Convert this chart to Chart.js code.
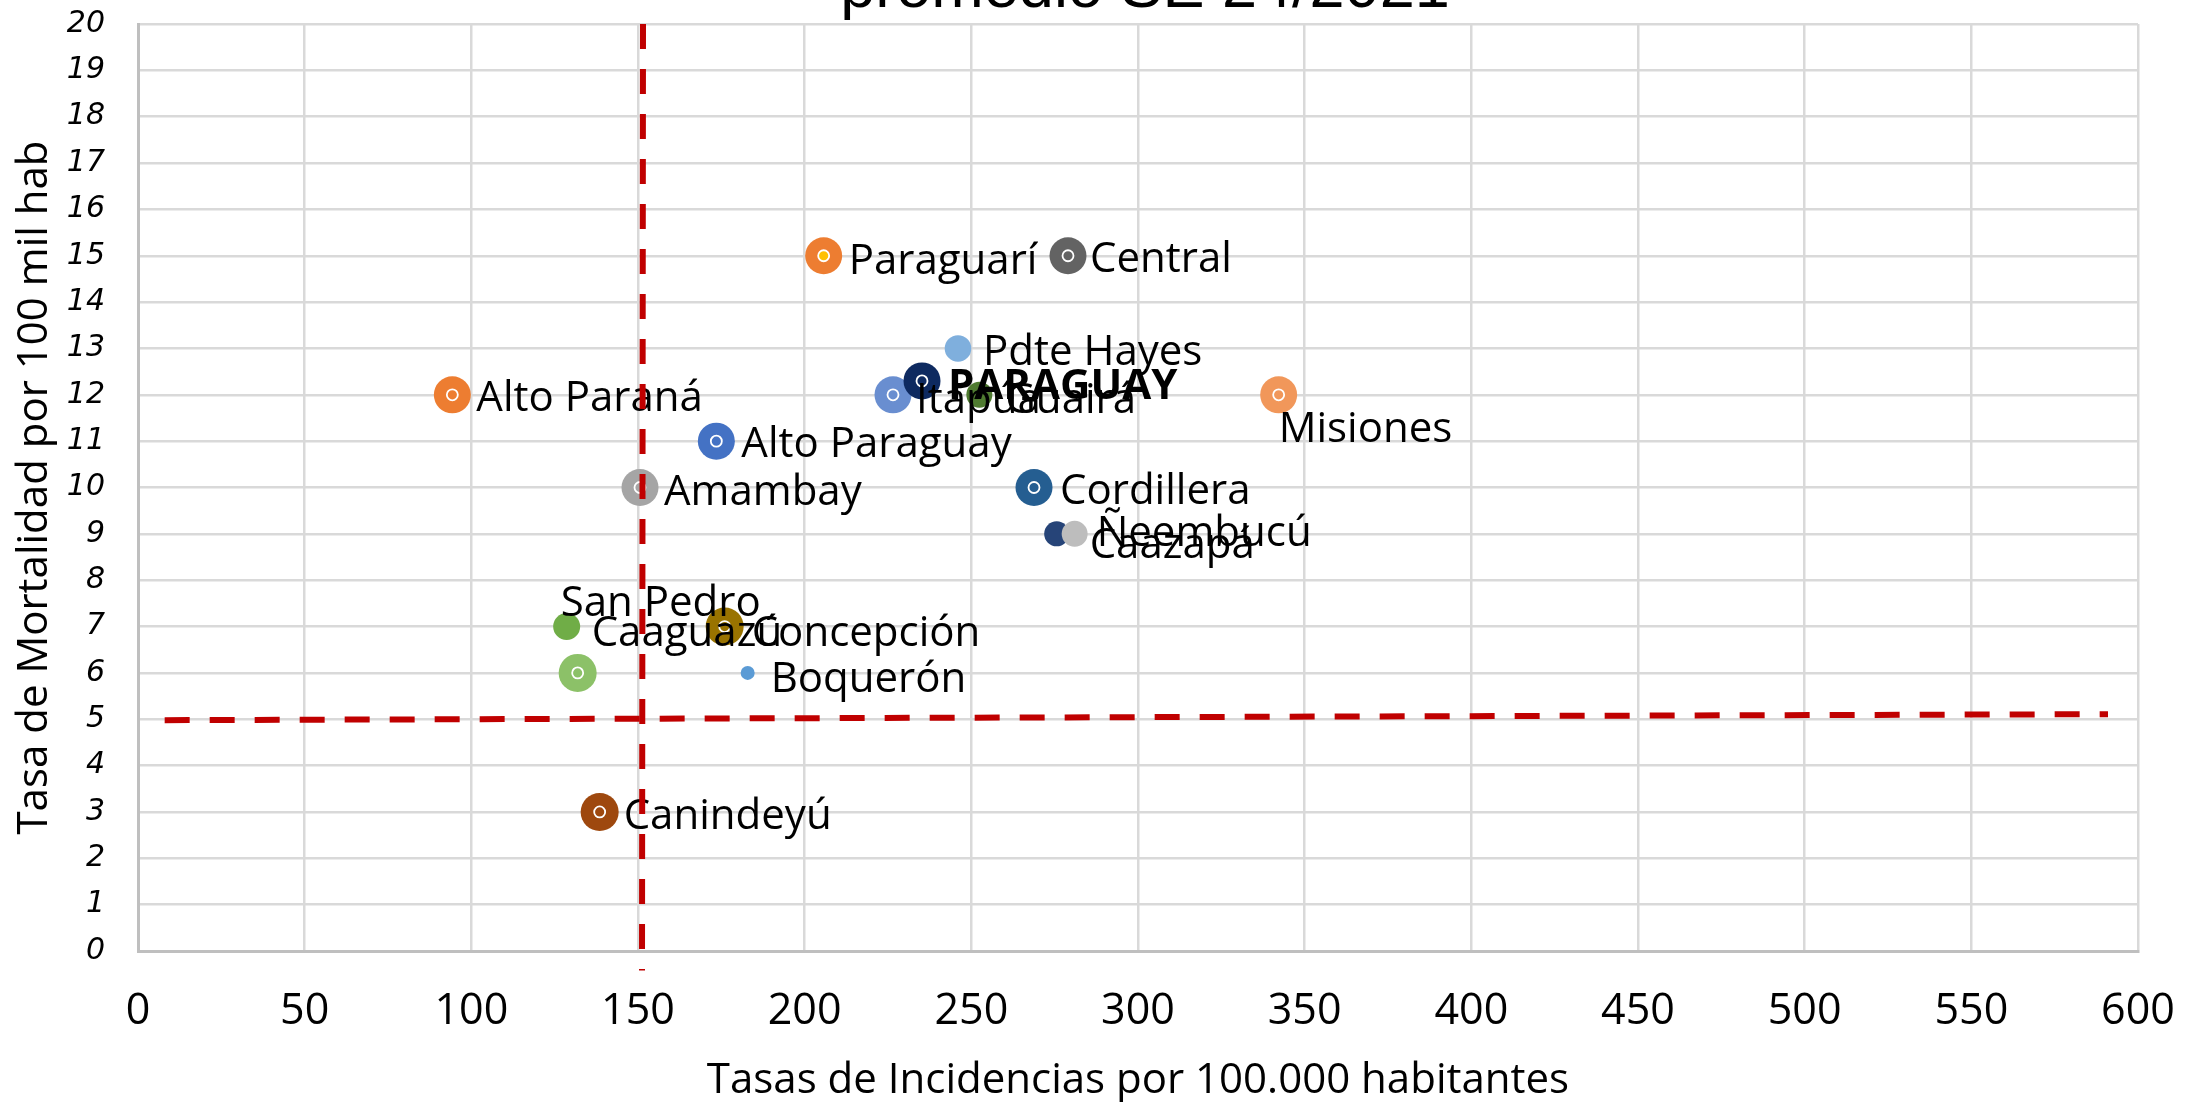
<!DOCTYPE html>
<html lang="es">
<head>
<meta charset="utf-8">
<title>Incidencia y mortalidad por departamento</title>
<script src="https://cdn.jsdelivr.net/npm/chart.js@4.4.1/dist/chart.umd.min.js"></script>
<style>
  html, body { margin: 0; padding: 0; background: #fff; overflow: hidden; }
  #wrap { position: relative; width: 2190px; height: 1102px; }
</style>
</head>
<body>
<div id="wrap"><canvas id="grafico"></canvas></div>
<script>
// Datos por departamento
const departamentos = ['Alto Paraná', 'Paraguarí', 'Central', 'Pdte Hayes', 'Itapúa', 'PARAGUAY',
    'Guairá', 'Misiones', 'Alto Paraguay', 'Amambay', 'Cordillera', 'Caazapá', 'Ñeembucú',
    'San Pedro', 'Concepción', 'Caaguazú', 'Boquerón', 'Canindeyú'];
const incidencia = [94.3, 205.7, 279, 246, 226.5, 235.2, 252.4, 342.2, 173.5, 150.6, 268.8,
    275.6, 281, 128.6, 176, 131.9, 182.9, 138.5];
const mortalidad = [12, 15, 15, 13, 12, 12.3, 12, 12, 11, 10, 10, 9, 9, 7, 7, 6, 6, 3];

// Lineas de referencia (cortes)
const refVerticalX = [151.5, 151.2];
const refVerticalY = [20, -0.42];
const refHorizontalX = [8, 591];
const refHorizontalY = [4.98, 5.11];

// Ticks de los ejes
const ticksX = [0, 50, 100, 150, 200, 250, 300, 350, 400, 450, 500, 550, 600];
const ticksY = [0, 1, 2, 3, 4, 5, 6, 7, 8, 9, 10, 11, 12, 13, 14, 15, 16, 17, 18, 19, 20];

const titulo = 'promedio SE 24/2021';
const tituloX = 'Tasas de Incidencias por 100.000 habitantes';
const tituloY = 'Tasa de Mortalidad por 100 mil hab';

// Estilo de los marcadores
const colores = ['#ED7D31', '#ED7D31', '#636363', '#7FAFDD', '#698ED0', '#0E2A60',
    '#4F7B30', '#F1975A', '#4472C4', '#A5A5A5', '#255E91', '#264478', '#BDBDBD',
    '#70AD47', '#997300', '#8CC168', '#5B9BD5', '#9E480E'];
const radios = [18.5, 18.5, 18.5, 13.3, 18.5, 18.5, 13, 18.5, 18.5, 18.5, 18.5, 12.5, 13,
    13.5, 19, 19, 7, 19];
const conAnillo = [1, 1, 1, 0, 1, 1, 0, 1, 1, 1, 1, 0, 0, 0, 1, 1, 0, 1];

// Posicion de las etiquetas respecto al punto (px)
const etiquetaDx = [24, 25, 22, 25, 23, 26, 26, 0, 25, 24, 26, 33, 22, -6, 27, 14, 23, 24];
const etiquetaDy = [1, 3, 1, 2, 3, 3, 3, 32, 1, 2, 1, 9, -3, -26, 4, -42, 4, 2];

const puntos = incidencia.map((x, i) => ({ x: x, y: mortalidad[i] }));

// Fondo blanco y titulo (cortado arriba como en el original)
const fondoPlugin = {
    id: 'fondo',
    beforeDraw(chart) {
        const ctx = chart.ctx;
        ctx.save();
        ctx.fillStyle = '#ffffff';
        ctx.fillRect(0, 0, chart.width, chart.height);
        ctx.restore();
    },
    afterDraw(chart) {
        const ctx = chart.ctx;
        ctx.save();
        ctx.font = '63px "Liberation Sans", Arial, sans-serif';
        ctx.fillStyle = '#000000';
        ctx.textAlign = 'center';
        ctx.textBaseline = 'alphabetic';
        ctx.fillText(titulo, 1145, 7);
        ctx.restore();
    }
};

// Etiquetas de cada departamento
const etiquetasPlugin = {
    id: 'etiquetas',
    afterDatasetDraw(chart, args) {
        if (args.index !== 1) return;
        const ctx = chart.ctx;
        const sx = chart.scales.x;
        const sy = chart.scales.y;
        ctx.save();
        ctx.fillStyle = '#000000';
        ctx.textAlign = 'left';
        ctx.textBaseline = 'alphabetic';
        departamentos.forEach((nombre, i) => {
            const px = sx.getPixelForValue(incidencia[i]);
            const py = sy.getPixelForValue(mortalidad[i]);
            const bold = nombre === 'PARAGUAY' ? 'bold ' : '';
            ctx.font = bold + '42px "Open Sans", sans-serif';
            ctx.fillText(nombre, px + etiquetaDx[i], py + etiquetaDy[i] + 15);
        });
        ctx.restore();
    }
};

const lineaRef = (xs, ys) => ({
    data: xs.map((x, i) => ({ x: x, y: ys[i] })),
    showLine: true,
    borderColor: '#C00000',
    borderWidth: 6,
    borderDash: [25, 20],
    borderCapStyle: 'butt',
    pointRadius: 0,
    fill: false,
    clip: false,
    order: 1
});

// el area del grafico queda fija: sin relleno extra de las escalas
const sinRelleno = scale => {
    scale.paddingTop = 0;
    scale.paddingBottom = 0;
    scale.paddingLeft = 0;
    scale.paddingRight = 0;
};

new Chart(document.getElementById('grafico'), {
    type: 'scatter',
    data: {
        datasets: [
            {
                data: puntos,
                backgroundColor: colores,
                borderWidth: 0,
                pointRadius: radios,
                pointHoverRadius: radios,
                order: 4
            },
            {
                data: puntos,
                backgroundColor: colores.map((c, i) => i === 1 ? '#FFC000' : c),
                borderColor: '#ffffff',
                borderWidth: 1.8,
                pointRadius: conAnillo.map(v => v ? 5.5 : 0),
                pointHoverRadius: conAnillo.map(v => v ? 5.5 : 0),
                order: 3
            },
            lineaRef(refVerticalX, refVerticalY),
            lineaRef(refHorizontalX, refHorizontalY)
        ]
    },
    options: {
        responsive: true,
        maintainAspectRatio: false,
        animation: false,
        events: [],
        layout: { padding: { top: 24, right: 52, left: 0, bottom: 0 } },
        plugins: {
            legend: { display: false },
            tooltip: { enabled: false },
            title: { display: false }
        },
        scales: {
            x: {
                type: 'linear',
                min: 0,
                max: 600,
                afterBuildTicks: scale => { scale.ticks = ticksX.map(v => ({ value: v })); },
                afterFit: scale => { scale.height = 151; sinRelleno(scale); },
                grid: { color: '#D9D9D9', lineWidth: 2.5, drawTicks: false },
                border: { color: '#BFBFBF', width: 3 },
                ticks: {
                    padding: 35,
                    color: '#000000',
                    font: { family: '"Open Sans", sans-serif', size: 43 }
                },
                title: {
                    display: true,
                    text: tituloX,
                    color: '#000000',
                    padding: { top: 0, bottom: 0 },
                    font: { family: '"Open Sans", sans-serif', size: 42, lineHeight: 1 }
                }
            },
            y: {
                type: 'linear',
                min: 0,
                max: 20,
                afterBuildTicks: scale => { scale.ticks = ticksY.map(v => ({ value: v })); },
                afterFit: scale => { scale.width = 138; sinRelleno(scale); },
                grid: { color: '#D9D9D9', lineWidth: 2.5, drawTicks: false },
                border: { color: '#BFBFBF', width: 3 },
                ticks: {
                    padding: 33,
                    color: '#000000',
                    font: { family: '"DejaVu Sans", sans-serif', size: 30, style: 'italic' }
                },
                title: {
                    display: true,
                    text: tituloY,
                    color: '#000000',
                    padding: { top: 10, bottom: 0 },
                    font: { family: '"Open Sans", sans-serif', size: 42 }
                }
            }
        }
    },
    plugins: [fondoPlugin, etiquetasPlugin]
});
</script>
</body>
</html>
